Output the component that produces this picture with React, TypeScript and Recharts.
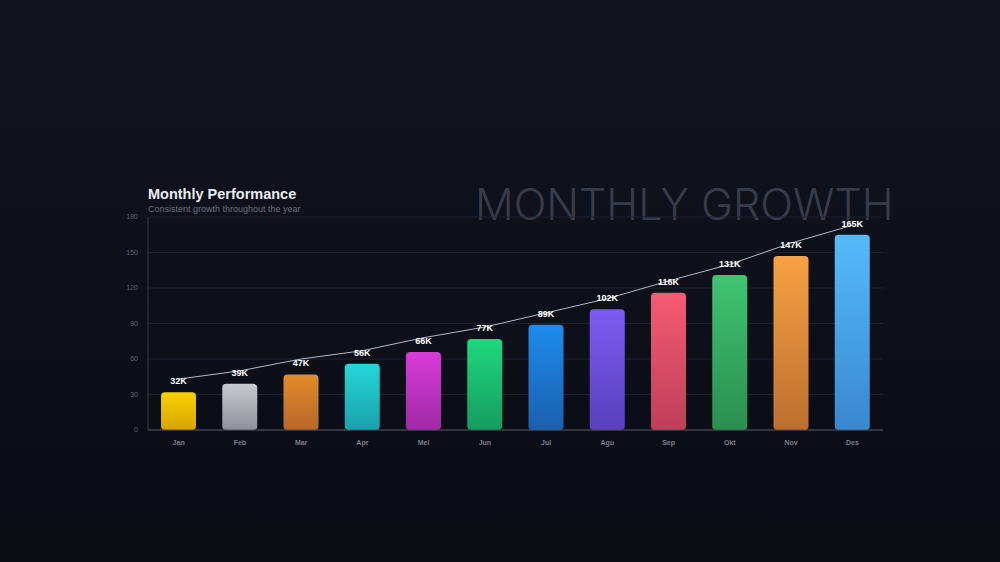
import {
  ComposedChart,
  Bar,
  Line,
  XAxis,
  YAxis,
  CartesianGrid,
  Cell,
  LabelList,
} from "recharts";

// Monthly values (in K).
const months = ["Jan", "Feb", "Mar", "Apr", "Mei", "Jun", "Jul", "Agu", "Sep", "Okt", "Nov", "Des"];
const values = [32, 39, 47, 56, 66, 77, 89, 102, 116, 131, 147, 165];
// Thin trend line that rides just above the value labels.
const trend = [43, 50, 60, 67, 78, 87, 99, 111, 126, 140, 158, 173];
const yTicks = [0, 30, 60, 90, 120, 150, 180];

// Top / bottom colour of each bar's vertical gradient.
const barTops = ["#f7d000", "#c8cad1", "#e28b2c", "#25d6d8", "#d83bd8", "#1fd87e", "#1e8cec", "#7b5cf2", "#f65b72", "#40c472", "#f7a142", "#55bbfa"];
const barBottoms = ["#d8a400", "#8e9099", "#b7672a", "#1aa1ad", "#9e2aa6", "#159c5e", "#1a5fae", "#5840bd", "#bd3f58", "#2a8e4f", "#bd6f30", "#3a87cf"];

const chartData = months.map((name, i) => ({ name, value: values[i], trend: trend[i] }));

const font = "'Liberation Sans', Arial, sans-serif";

export default function App() {
  return (
    <div
      style={{
        position: "absolute",
        left: 0,
        top: 0,
        width: 1000,
        height: 562,
        overflow: "hidden",
        background: "linear-gradient(180deg, #11141f 0%, #0d0f19 60%, #0a0c14 100%)",
        fontFamily: font,
      }}
    >
      <div
        style={{
          position: "absolute",
          left: 475,
          top: 178,
          fontSize: 43,
          fontWeight: 300,
          fontFamily: "Inter, 'Open Sans', sans-serif",
          color: "#383c4a",
          whiteSpace: "nowrap",
        }}
      >
        MONTHLY GROWTH
      </div>
      <div
        style={{
          position: "absolute",
          left: 148,
          top: 186,
          fontSize: 14.5,
          fontWeight: 700,
          color: "#e9ebf2",
          whiteSpace: "nowrap",
        }}
      >
        Monthly Performance
      </div>
      <div
        style={{
          position: "absolute",
          left: 148,
          top: 204,
          fontSize: 9,
          color: "#6a6f7e",
          whiteSpace: "nowrap",
        }}
      >
        Consistent growth throughout the year
      </div>
      <ComposedChart
        width={1000}
        height={562}
        data={chartData}
        margin={{ top: 217, right: 117, left: 128, bottom: 102 }}
        style={{ position: "absolute", left: 0, top: 0 }}
      >
        <defs>
          {barTops.map((c, i) => (
            <linearGradient key={i} id={`bar-${i}`} x1="0" y1="0" x2="0" y2="1">
              <stop offset="0%" stopColor={c} />
              <stop offset="100%" stopColor={barBottoms[i]} />
            </linearGradient>
          ))}
        </defs>
        <CartesianGrid vertical={false} stroke="#1d2130" />
        <XAxis
          dataKey="name"
          height={30}
          tickLine={false}
          tickMargin={4}
          axisLine={{ stroke: "#50545f" }}
          tick={{ fill: "#7a7f8c", fontSize: 7, fontWeight: 700, fontFamily: font }}
        />
        <YAxis
          width={20}
          domain={[0, 180]}
          ticks={yTicks}
          tickLine={false}
          tickMargin={4}
          axisLine={{ stroke: "#363a47" }}
          tick={{ fill: "#5d6270", fontSize: 7, fontFamily: font }}
        />
        <Bar dataKey="value" barSize={35} radius={[4, 4, 4, 4]} isAnimationActive={false}>
          {chartData.map((_, i) => (
            <Cell key={i} fill={`url(#bar-${i})`} />
          ))}
          <LabelList
            dataKey="value"
            position="top"
            offset={8}
            formatter={(v: any) => `${v}K`}
            style={{ fill: "#ffffff", fontSize: 9, fontWeight: 700, fontFamily: font }}
          />
        </Bar>
        <Line
          dataKey="trend"
          type="linear"
          stroke="#b4b8c4"
          strokeWidth={1}
          dot={false}
          activeDot={false}
          isAnimationActive={false}
        />
      </ComposedChart>
    </div>
  );
}
